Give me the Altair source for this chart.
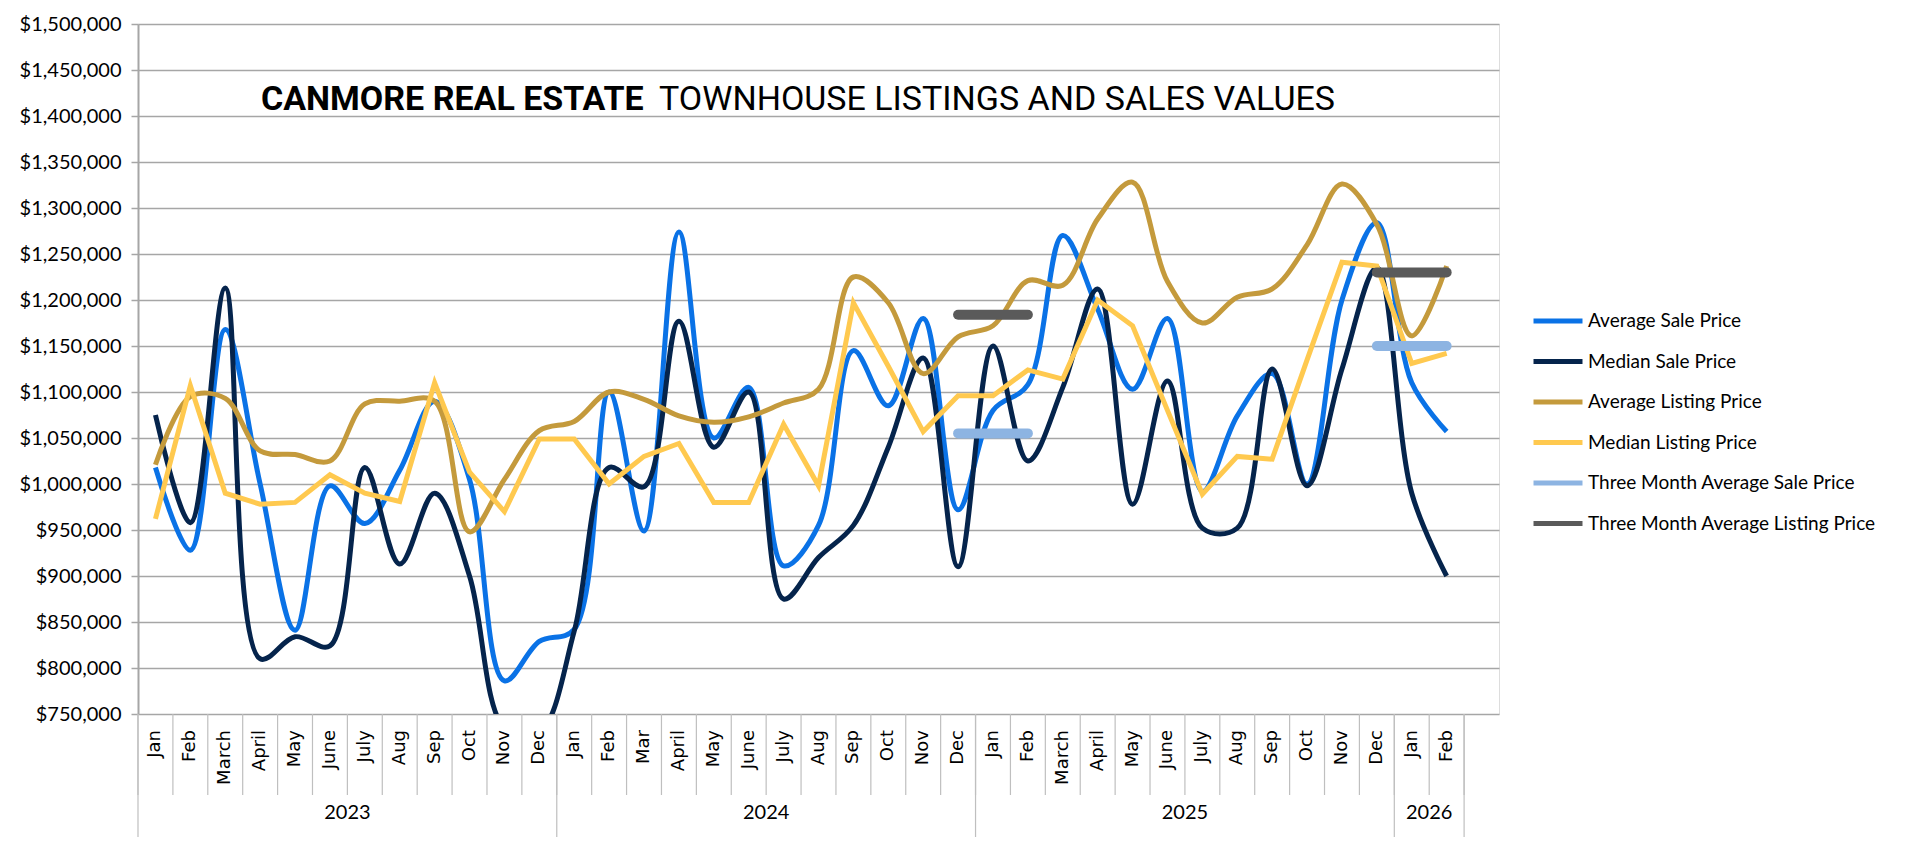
import altair as alt
import pandas as pd

# ---------------- data ----------------
months = ["Jan", "Feb", "March", "April", "May", "June", "July", "Aug", "Sep", "Oct", "Nov", "Dec",
          "Jan", "Feb", "Mar", "April", "May", "June", "July", "Aug", "Sep", "Oct", "Nov", "Dec",
          "Jan", "Feb", "March", "April", "May", "June", "July", "Aug", "Sep", "Oct", "Nov", "Dec",
          "Jan", "Feb", ""]

years = ["2023", "2024", "2025", "2026"]
year_start = [0, 12, 24, 36]
year_end = [11, 23, 35, 37]

avg_sale = [1018000, 928000, 1168000, 1000000, 841000, 998000, 957000, 1015000, 1090000, 1005000, 786000, 829000,
            842000, 1100000, 949000, 1274000, 1050000, 1105000, 911000, 955000, 1145000, 1085000, 1180000, 972000,
            1080000, 1108000, 1270000, 1190000, 1103000, 1180000, 992000, 1074000, 1120000, 1000000, 1200000, 1284000,
            1110000, 1057000]

median_sale = [1075000, 958000, 1213000, 810000, 834000, 824000, 1018000, 913000, 990000, 900000, 735000, 730000,
               840000, 1018000, 997000, 1177000, 1040000, 1100000, 875000, 920000, 955000, 1040000, 1137000, 910000,
               1150000, 1025000, 1105000, 1212000, 978000, 1112000, 952000, 952000, 1125000, 998000, 1125000, 1235000,
               990000, 900000]

avg_list = [1021000, 1095000, 1093000, 1036000, 1032000, 1025000, 1087000, 1090000, 1090000, 948000, 1005000, 1058000,
            1068000, 1100000, 1092000, 1074000, 1067000, 1073000, 1088000, 1103000, 1225000, 1197000, 1120000, 1160000,
            1172000, 1221000, 1216000, 1288000, 1328000, 1220000, 1175000, 1203000, 1212000, 1260000, 1326000, 1282000,
            1161000, 1237000]

median_list = [962000, 1107000, 990000, 978000, 980000, 1010000, 990000, 981000, 1110000, 1013000, 970000, 1049000,
               1049000, 1000000, 1030000, 1044000, 980000, 980000, 1065000, 998000, 1197000, 1128000, 1057000, 1096000,
               1096000, 1124000, 1114000, 1200000, 1172000, 1080000, 989000, 1030000, 1027000, 1135000, 1241000, 1237000,
               1131000, 1142000]

tm_start = [23, 35]
tm_end = [25, 37]
tm_sale = [1055000, 1150000]
tm_list = [1184000, 1230000]

series_names = ["Average Sale Price", "Median Sale Price", "Average Listing Price",
                "Median Listing Price", "Three Month Average Sale Price", "Three Month Average Listing Price"]
series_colors = ["#0A72E6", "#05244C", "#C49A3C", "#FFC94F", "#8DB4E2", "#5A5A5A"]

title_bold = "CANMORE REAL ESTATE"
title_regular = "TOWNHOUSE LISTINGS AND SALES VALUES"

y_ticks = list(range(750000, 1500001, 50000))

# ---------------- tables ----------------
n = len(avg_sale)
smooth_rows = []
for name, vals in [(series_names[0], avg_sale), (series_names[1], median_sale), (series_names[2], avg_list)]:
    for i, v in enumerate(vals):
        smooth_rows.append({"slot": i, "value": v, "series": name})
df_smooth = pd.DataFrame(smooth_rows)
df_linear = pd.DataFrame({"slot": list(range(n)), "value": median_list, "series": series_names[3]})

tm_rows = []
for s, e, v in zip(tm_start, tm_end, tm_sale):
    tm_rows.append({"start": s, "end": e, "value": v, "series": series_names[4]})
for s, e, v in zip(tm_start, tm_end, tm_list):
    tm_rows.append({"start": s, "end": e, "value": v, "series": series_names[5]})
df_tm = pd.DataFrame(tm_rows)

df_months = pd.DataFrame({"slot": list(range(len(months))), "label": months})
df_month_sep = pd.DataFrame({"pos": [i - 0.5 for i in range(n + 1)]})
df_years = pd.DataFrame({"year": years,
                         "mid": [(a + b) / 2 for a, b in zip(year_start, year_end)]})
df_year_sep = pd.DataFrame({"pos": [s - 0.5 for s in year_start] + [year_end[-1] + 0.5]})

W, H = 1361, 690
GRID = "#A6A6A6"

x_scale = alt.Scale(domain=[-0.5, len(months) - 0.5], nice=False, zero=False)
y_scale = alt.Scale(domain=[750000, 1500000], nice=False, zero=False)

legend = alt.Legend(title=None, orient="none", legendX=1393, legendY=286,
                    symbolType="stroke", symbolStrokeWidth=5, symbolSize=2400,
                    labelFont="Lato", labelFontSize=19, labelColor="black", labelLimit=500,
                    clipHeight=22, rowPadding=18.5, labelOffset=3, padding=0)
color = alt.Color("series:N", scale=alt.Scale(domain=series_names, range=series_colors), legend=legend)

y_axis = alt.Axis(values=y_ticks, format="$,.0f", title=None, labelFont="Lato", labelFontSize=20,
                  labelColor="black", tickSize=7, tickColor=GRID, tickWidth=1.5, labelPadding=10,
                  domain=True, domainColor=GRID, domainWidth=2, grid=True, gridColor=GRID, gridWidth=1.5)

smooth = alt.Chart(df_smooth).mark_line(interpolate="catmull-rom", strokeWidth=5, clip=True).encode(
    x=alt.X("slot:Q", scale=x_scale, axis=None),
    y=alt.Y("value:Q", scale=y_scale, axis=y_axis),
    color=color,
    detail="series:N",
)

linear = alt.Chart(df_linear).mark_line(strokeWidth=5, clip=True).encode(
    x=alt.X("slot:Q", scale=x_scale, axis=None),
    y=alt.Y("value:Q", scale=y_scale),
    color=color,
)

tm = alt.Chart(df_tm).mark_rule(strokeWidth=10, strokeCap="round").encode(
    x=alt.X("start:Q", scale=x_scale, axis=None),
    x2="end:Q",
    y=alt.Y("value:Q", scale=y_scale),
    color=color,
)

month_labels = alt.Chart(df_months).mark_text(angle=270, align="right", baseline="middle",
                                              font="DejaVu Sans", fontSize=18, color="black").encode(
    x=alt.X("slot:Q", scale=x_scale, axis=None),
    y=alt.value(H + 16),
    text="label:N",
)

month_sep = alt.Chart(df_month_sep).mark_rule(color="#BFBFBF", strokeWidth=1.2).encode(
    x=alt.X("pos:Q", scale=x_scale, axis=None),
    y=alt.value(H),
    y2=alt.value(H + 81),
)

year_sep = alt.Chart(df_year_sep).mark_rule(color="#BFBFBF", strokeWidth=1.2).encode(
    x=alt.X("pos:Q", scale=x_scale, axis=None),
    y=alt.value(H),
    y2=alt.value(H + 123),
)

year_labels = alt.Chart(df_years).mark_text(font="Lato", fontSize=20, color="black",
                                            baseline="middle", align="center").encode(
    x=alt.X("mid:Q", scale=x_scale, axis=None),
    y=alt.value(H + 99),
    text="year:N",
)

title1 = alt.Chart(pd.DataFrame({"t": [title_bold]})).mark_text(
    font="Roboto", fontWeight="bold", fontSize=34, align="left", baseline="alphabetic",
    color="black").encode(x=alt.value(123), y=alt.value(86), text="t:N")

title2 = alt.Chart(pd.DataFrame({"t": [title_regular]})).mark_text(
    font="Roboto", fontWeight="normal", fontSize=34, align="left", baseline="alphabetic",
    color="black").encode(x=alt.value(521), y=alt.value(86), text="t:N")

chart = alt.layer(
    smooth, linear, tm, month_sep, year_sep, month_labels, year_labels, title1, title2
).properties(
    width=W, height=H,
    padding={"left": 130, "top": 16, "right": 405, "bottom": 126},
    autosize=alt.AutoSizeParams(type="none"),
).configure_view(stroke=None).configure(background="white")

chart.save("out.html", embed_options={"renderer": "svg", "actions": False})
